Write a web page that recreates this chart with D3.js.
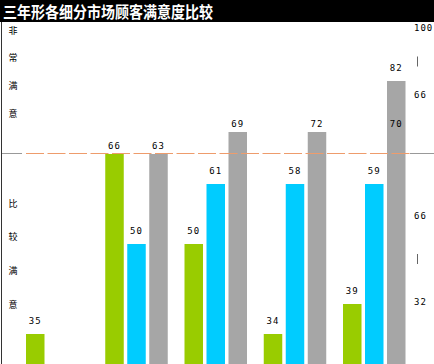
<!DOCTYPE html>
<html><head><meta charset="utf-8">
<script src="https://cdn.jsdelivr.net/npm/d3@7/dist/d3.min.js"></script>
<style>html,body{margin:0;padding:0;background:#fff;overflow:hidden}</style>
</head><body>
<script>
const title = "三年形各细分市场顾客满意度比较";
const groups = ["g1","g2","g3","g4","g5"];
const seriesNames = ["green","blue","gray"];
const greenValues = [35, 66, 50, 34, 39];
const blueValues  = [null, 50, 61, 58, 59];
const grayValues  = [null, 63, 69, 72, 82];
const extraLabels = [{group:"g5", series:"gray", value:70}];
const upperAxisChars = ["非","常","满","意"];
const lowerAxisChars = ["比","较","满","意"];
const rightUpperTicks = ["100","|","66"];
const rightLowerTicks = ["66","|","32"];
const thresholds = [37, 45, 55, 62, 68, 75];

const W = 434, H = 364;
const colors = {green:"#99cc00", blue:"#00ccff", gray:"#a6a6a6"};
const svg = d3.select("body").append("svg").attr("width", W).attr("height", H);

// title bar
svg.append("rect").attr("x",0).attr("y",0).attr("width",W).attr("height",22).attr("fill","#000");
svg.append("text").attr("x",3).attr("y",0).attr("fill","#fff")
  .attr("transform","translate(0,17.5) scale(1,1.12)")
  .attr("font-family","'Noto Sans CJK SC'").attr("font-weight","bold").attr("font-size",14)
  .attr("letter-spacing",0).text(title);

// scales
const x0 = d3.scaleBand().domain(groups).range([26, 26 + 79.25*5]).paddingInner(0).paddingOuter(0);
const x1 = d3.scaleBand().domain(seriesNames).range([0, 62.5]).paddingInner(3.5/22).paddingOuter(0);
const y = d3.scaleThreshold().domain(thresholds).range([334, 304, 244, 184, 154, 132, 81]);
const baseY = 366;
const midY = 153.5;

const data = [];
const seriesVals = {green:greenValues, blue:blueValues, gray:grayValues};
seriesNames.forEach(s => groups.forEach((g,i) => {
  const v = seriesVals[s][i];
  if (v != null) data.push({group:g, series:s, value:v});
}));

// bars
svg.selectAll("rect.bar").data(data).enter().append("rect").attr("class","bar")
  .attr("x", d => x0(d.group) + x1(d.series))
  .attr("y", d => y(d.value))
  .attr("width", x1.bandwidth())
  .attr("height", d => baseY - y(d.value))
  .attr("fill", d => colors[d.series]);

// left axis line
svg.append("line").attr("x1",1.5).attr("x2",1.5).attr("y1",22).attr("y2",H)
  .attr("stroke","#333").attr("stroke-width",1);

// middle line
svg.append("line").attr("x1",2).attr("x2",22).attr("y1",midY).attr("y2",midY)
  .attr("stroke","#999").attr("stroke-width",1);
svg.append("line").attr("x1",410).attr("x2",W).attr("y1",midY).attr("y2",midY)
  .attr("stroke","#999").attr("stroke-width",1);
svg.append("line").attr("x1",26).attr("x2",410).attr("y1",midY).attr("y2",midY)
  .attr("stroke","#ee9c6c").attr("stroke-width",1).attr("stroke-dasharray","18,3.5");

// value labels
const labelFont = "'DejaVu Sans Mono'";
function labelY(v){ const t = y(v); return (t <= 160 && t > 100) ? t - 5 : t - 10; }
const allLabels = data.concat(extraLabels);
svg.selectAll("text.val").data(allLabels).enter().append("text").attr("class","val")
  .attr("x", d => x0(d.group) + x1(d.series) + x1.bandwidth()/2)
  .attr("y", d => labelY(d.value))
  .attr("text-anchor","middle").attr("font-family",labelFont).attr("font-size",9)
  .attr("letter-spacing",1).attr("fill","#000")
  .text(d => d.value);

// left axis characters
const yUp = d3.scalePoint().domain(d3.range(upperAxisChars.length)).range([30, 113]);
const yLo = d3.scalePoint().domain(d3.range(lowerAxisChars.length)).range([203, 304]);
const charFont = "'Noto Sans CJK SC'";
upperAxisChars.forEach((c,i) => svg.append("text").attr("x",13).attr("y",yUp(i)+3.5)
  .attr("text-anchor","middle").attr("font-family",charFont).attr("font-size",9).attr("fill","#000").text(c));
lowerAxisChars.forEach((c,i) => svg.append("text").attr("x",13).attr("y",yLo(i)+3.5)
  .attr("text-anchor","middle").attr("font-family",charFont).attr("font-size",9).attr("fill","#000").text(c));

// right axis labels
const rUp = d3.scalePoint().domain(d3.range(rightUpperTicks.length)).range([28, 95]);
const rLo = d3.scalePoint().domain(d3.range(rightLowerTicks.length)).range([216, 302]);
function drawRight(arr, sc){
  arr.forEach((t,i) => {
    if (t === "|") {
      svg.append("line").attr("x1",417.5).attr("x2",417.5).attr("y1",sc(i)-5).attr("y2",sc(i)+5)
        .attr("stroke","#666").attr("stroke-width",1);
    } else {
      svg.append("text").attr("x",414).attr("y",sc(i)+3).attr("font-family",labelFont)
        .attr("font-size",9).attr("letter-spacing",1).attr("fill","#000").text(t);
    }
  });
}
drawRight(rightUpperTicks, rUp);
drawRight(rightLowerTicks, rLo);
</script>
</body></html>
